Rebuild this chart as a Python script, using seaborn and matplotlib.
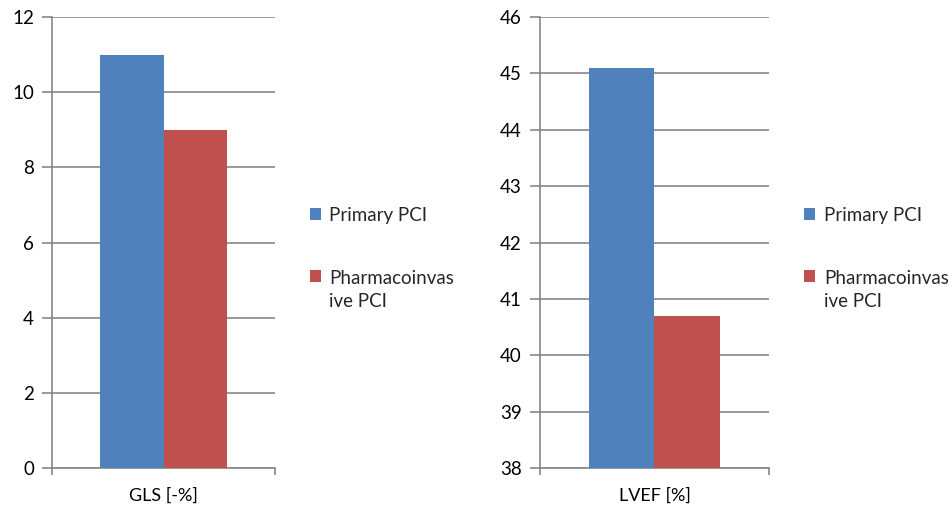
import pandas as pd
import numpy as np
import seaborn as sns
import matplotlib.pyplot as plt

sns.set_theme(style="white")
plt.rcParams['font.family'] = ['Lato', 'DejaVu Sans']

groups = ["Primary PCI", "Pharmacoinvas\nive PCI"]
colors = ["#4F81BD", "#C0504D"]
gls_vals = [11, 9]
lvef_vals = [45.1, 40.7]
gls_ticks = [0, 2, 4, 6, 8, 10, 12]
lvef_ticks = [38, 39, 40, 41, 42, 43, 44, 45, 46]

grid_c = "#878787"

fig = plt.figure(figsize=(9.52, 5.08), dpi=100)
ax1 = fig.add_axes([0.0546, 0.0787, 0.2343, 0.8878])
ax2 = fig.add_axes([0.5672, 0.0787, 0.2405, 0.8878])

panels = [(ax1, "GLS [-%]", gls_vals, gls_ticks), (ax2, "LVEF [%]", lvef_vals, lvef_ticks)]

for ax, name, vals, ticks in panels:
    df = pd.DataFrame({"measure": [name] * 2, "group": groups, "value": vals})
    sns.barplot(data=df, x="measure", y="value", hue="group", palette=colors,
                width=0.57, saturation=1, linewidth=0, ax=ax, zorder=3)
    ax.set_ylim(ticks[0], ticks[-1])
    ax.set_yticks(ticks)
    ax.set_xlim(-0.5, 0.5)
    ax.set_xlabel("")
    ax.set_ylabel("")
    ax.yaxis.grid(True, color=grid_c, linewidth=1.2, zorder=0)
    ax.set_axisbelow(True)
    for s in ["top", "right"]:
        ax.spines[s].set_visible(False)
    for s in ["left", "bottom"]:
        ax.spines[s].set_color(grid_c)
        ax.spines[s].set_linewidth(1.2)
    ax.tick_params(axis="y", length=7, width=1.2, color=grid_c, labelsize=13.5, pad=6,
                   left=True)
    ax.tick_params(axis="x", length=0, labelsize=13, pad=14)
    ax.set_xticks([-0.5, 0.5], minor=True)
    ax.tick_params(axis="x", which="minor", length=5, width=1.2, color=grid_c, bottom=True)
    for t in ax.get_yticklabels() + ax.get_xticklabels():
        t.set_color("black")
    leg = ax.legend(loc="center left", bbox_to_anchor=(1.08, 0.465), frameon=False,
                    fontsize=13.5, handlelength=0.6, handleheight=0.6, handletextpad=0.45,
                    labelspacing=2.45)
    for t in leg.get_texts():
        t.set_linespacing(1.45)
    # square next to the first line of the wrapped label, as in the original
    h = leg.legend_handles[1]
    h.set_y(h.get_y() + 10.5)

fig.savefig("out.png", dpi=100)
